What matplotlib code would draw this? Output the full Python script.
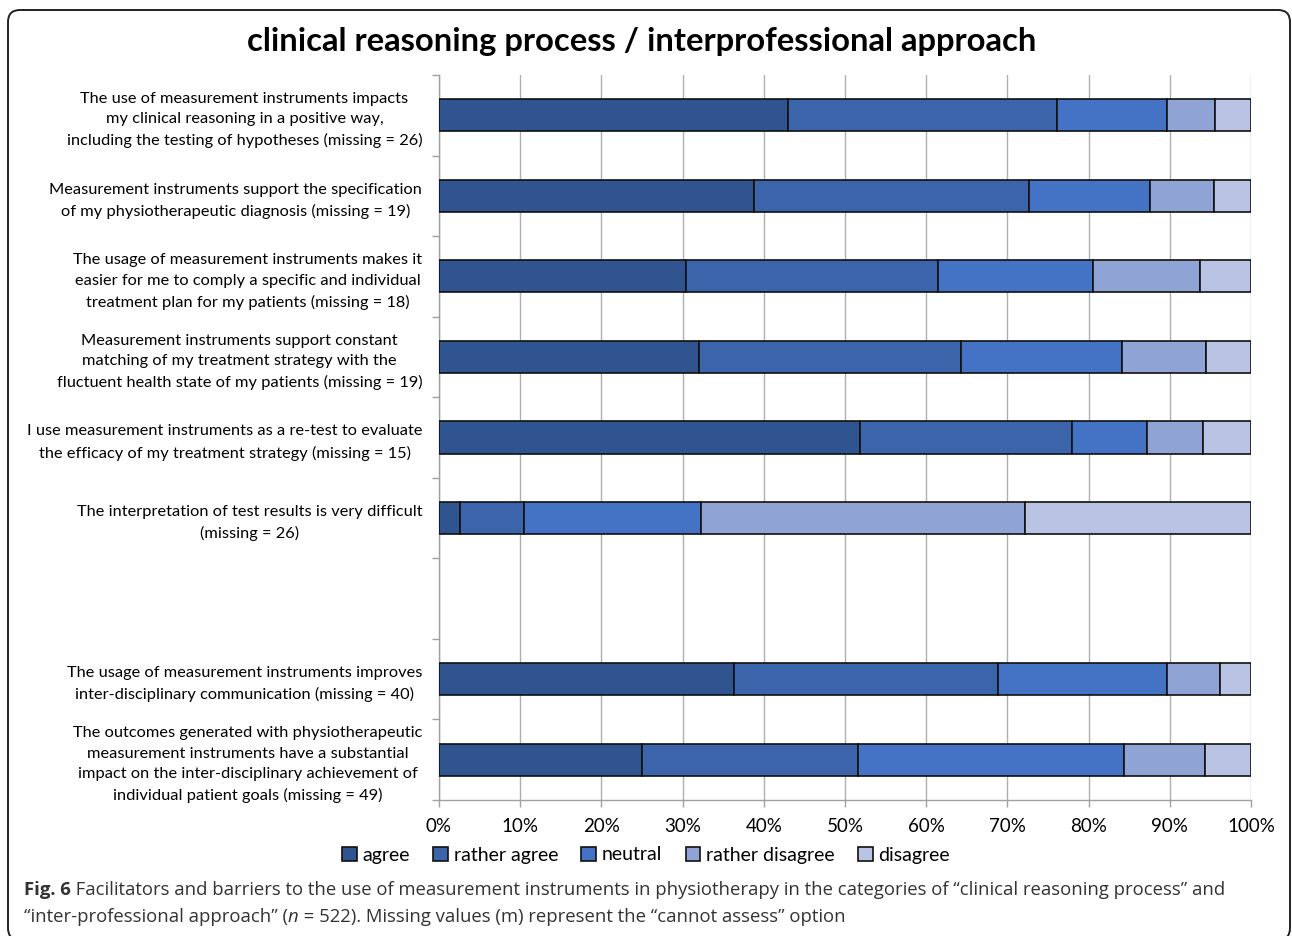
import matplotlib
matplotlib.use("Agg")
import matplotlib.pyplot as plt
from matplotlib.patches import FancyBboxPatch
from matplotlib.transforms import IdentityTransform

plt.rcParams['font.family'] = ['Lato', 'DejaVu Sans']

statements = [
    "The use of measurement instruments impacts\nmy clinical reasoning in a positive way,\nincluding the testing of hypotheses (missing = 26)",
    "Measurement instruments support the specification\nof my physiotherapeutic diagnosis (missing = 19)",
    "The usage of measurement instruments makes it\neasier for me to comply a specific and individual\ntreatment plan for my patients (missing = 18)",
    "Measurement instruments support constant\nmatching of my treatment strategy with the\nfluctuent health state of my patients (missing = 19)",
    "I use measurement instruments as a re-test to evaluate\nthe efficacy of my treatment strategy (missing = 15)",
    "The interpretation of test results is very difficult\n(missing = 26)",
    "The usage of measurement instruments improves\ninter-disciplinary communication (missing = 40)",
    "The outcomes generated with physiotherapeutic\nmeasurement instruments have a substantial\nimpact on the inter-disciplinary achievement of\nindividual patient goals (missing = 49)",
]

responses = ["agree", "rather agree", "neutral", "rather disagree", "disagree"]

# percent of answers per statement
agree           = [43.0, 38.8, 30.4, 32.0, 51.9,  2.6, 36.3, 25.0]
rather_agree    = [33.1, 33.8, 31.1, 32.3, 26.0,  7.9, 32.6, 26.6]
neutral         = [13.6, 15.0, 19.1, 19.8,  9.3, 21.8, 20.7, 32.8]
rather_disagree = [ 5.9,  7.8, 13.1, 10.4,  6.9, 39.9,  6.6,  9.9]
disagree        = [ 4.4,  4.6,  6.3,  5.5,  5.9, 27.8,  3.8,  5.7]

colors = ["#30548F", "#3B64AA", "#4472C4", "#8FA3D5", "#B9C3E3"]

# the first six statements are clinical reasoning, the last two interprofessional;
# one empty slot separates the groups
slots = [0, 1, 2, 3, 4, 5, 7, 8]
n_slots = 9

fig = plt.figure(figsize=(12.92, 9.36), dpi=100)
ax = fig.add_axes([439 / 1292, 1 - 800 / 936, 812 / 1292, 725 / 936])

left = [0.0] * len(slots)
for name, vals, col in zip(responses,
                           [agree, rather_agree, neutral, rather_disagree, disagree],
                           colors):
    ax.barh(slots, vals, left=left, height=0.4, color=col,
            edgecolor="#111111", linewidth=1.2, label=name, zorder=3)
    left = [a + b for a, b in zip(left, vals)]

ax.set_xlim(0, 100)
ax.set_ylim(n_slots - 0.5, -0.5)
ax.set_xticks(range(0, 101, 10))
ax.set_xticklabels([f"{v}%" for v in range(0, 101, 10)], fontsize=13.5)
ax.grid(axis="x", color="#AFAFAF", linewidth=1.0, zorder=0)

ax.set_yticks(slots)
ax.set_yticklabels(statements, fontsize=11.8, multialignment="center",
                   linespacing=1.58)
ax.set_yticks([s - 0.5 for s in range(n_slots + 1)], minor=True)
ax.tick_params(axis="y", which="major", length=0, pad=12)
ax.tick_params(axis="y", which="minor", length=5, color="#A0A0A0", width=1)
ax.tick_params(axis="x", length=5, color="#A0A0A0", width=1, pad=8)

for side in ("top", "right"):
    ax.spines[side].set_visible(False)
for side in ("left", "bottom"):
    ax.spines[side].set_color("#A0A0A0")
    ax.spines[side].set_linewidth(1.0)

fig.legend(loc="center", bbox_to_anchor=(646 / 1292, 1 - 855 / 936), ncol=5,
           frameon=False, fontsize=14, handlelength=0.75, handleheight=0.75,
           handletextpad=0.3, columnspacing=1.2)

fig.text(642 / 1292, 1 - 41 / 936,
         "clinical reasoning process / interprofessional approach",
         ha="center", va="center", fontsize=23.6, fontweight="bold")

# figure caption, drawn as consecutive runs so the bold and italic parts line up
renderer = fig.canvas.get_renderer()
cap_font = ["Open Sans", "DejaVu Sans"]
cap_color = "#333333"


def caption_line(runs, x_px, y_px, size=13.3):
    x = x_px
    for text, style in runs:
        t = fig.text(x / 1292, 1 - y_px / 936, text, ha="left", va="center",
                     fontsize=size, color=cap_color, family=cap_font,
                     fontweight="bold" if style == "b" else "normal",
                     fontstyle="italic" if style == "i" else "normal")
        x += t.get_window_extent(renderer).width


caption_line([("Fig. 6", "b"),
              (" Facilitators and barriers to the use of measurement instruments in "
               "physiotherapy in the categories of \u201cclinical reasoning process\u201d and", "")],
             24, 890)
caption_line([("\u201cinter-professional approach\u201d (", ""), ("n", "i"),
              (" = 522). Missing values (m) represent the \u201ccannot assess\u201d option", "")],
             24, 917)

frame = FancyBboxPatch((8, -4), 1282, 930, boxstyle="round,pad=0,rounding_size=12",
                       transform=IdentityTransform(), facecolor="none",
                       edgecolor="#222222", linewidth=1.4)
fig.patches.append(frame)

fig.savefig("out.png", dpi=100)
